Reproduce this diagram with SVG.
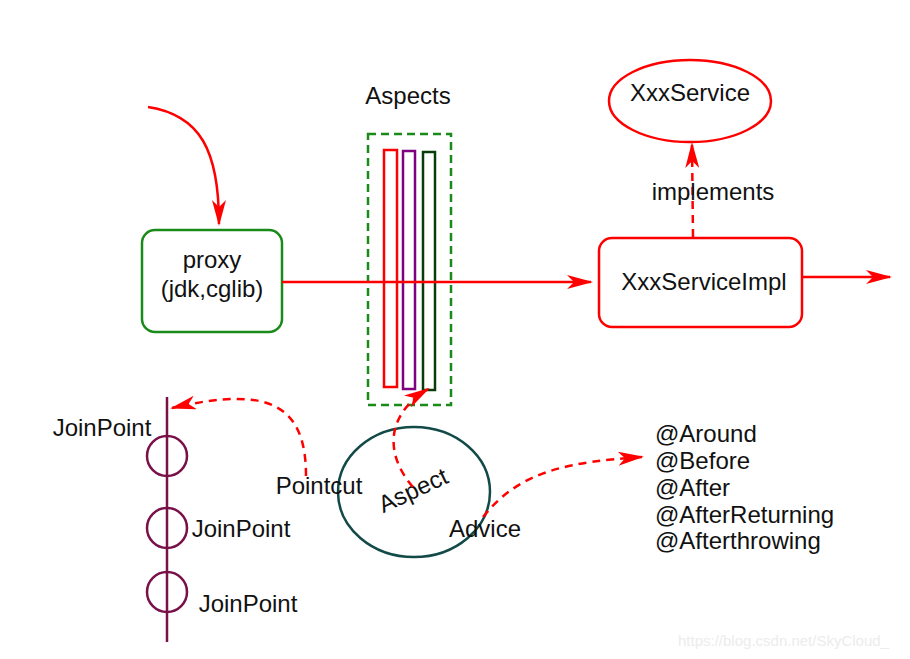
<svg xmlns="http://www.w3.org/2000/svg" width="910" height="659" viewBox="0 0 910 659">
<style>
text{font-family:"Liberation Sans",Arial,sans-serif;font-size:24px;fill:#111}
.red{fill:none;stroke:#ff0000;stroke-width:2.5}
.dash{stroke-dasharray:8,6}
.mid{text-anchor:middle;dominant-baseline:central}
</style>
<defs>
<marker id="ahb" markerWidth="26" markerHeight="14" refX="24" refY="7" orient="auto" markerUnits="userSpaceOnUse" viewBox="0 0 26 14">
<path d="M0,0 L26,7 L0,14 L7,7 Z" fill="#ff0000"/>
</marker>
</defs>
<rect width="910" height="659" fill="#fff"/>

<g id="proxy">
<rect x="142" y="230" width="140" height="102" rx="13" fill="#fff" stroke="#1a8a1a" stroke-width="2.5"/>
<text x="212" y="259" class="mid">proxy</text>
<text x="212" y="288" class="mid">(jdk,cglib)</text>
</g>

<g id="aspects">
<text x="408" y="95" class="mid">Aspects</text>
<rect x="368" y="134" width="83" height="271" fill="none" stroke="#1a8a1a" stroke-width="2.5" stroke-dasharray="8,5"/>
<rect x="384" y="150" width="13" height="237" fill="none" stroke="#ff0000" stroke-width="2.5"/>
<rect x="403" y="151" width="12" height="238" fill="none" stroke="#800080" stroke-width="2.5"/>
<rect x="423" y="152" width="12" height="238" fill="none" stroke="#0a3d0a" stroke-width="2.5"/>
</g>

<g id="xxxserviceimpl">
<rect x="599" y="238" width="203" height="89" rx="13" fill="#fff" stroke="#ff0000" stroke-width="2.5"/>
<text x="704" y="281" class="mid">XxxServiceImpl</text>
</g>

<g id="xxxservice">
<ellipse cx="690" cy="101" rx="81" ry="41" fill="#fff" stroke="#ff0000" stroke-width="2.5"/>
<text x="690" y="92" class="mid">XxxService</text>
</g>

<g id="joinpoints">
<line x1="167" y1="397" x2="167" y2="642" stroke="#7a1048" stroke-width="2.5"/>
<circle cx="167" cy="456" r="20" fill="none" stroke="#7a1048" stroke-width="2.5"/>
<circle cx="167" cy="528" r="20" fill="none" stroke="#7a1048" stroke-width="2.5"/>
<circle cx="167" cy="592" r="20" fill="none" stroke="#7a1048" stroke-width="2.5"/>
<text x="102" y="427" class="mid">JoinPoint</text>
<text x="241" y="528" class="mid">JoinPoint</text>
<text x="248" y="603" class="mid">JoinPoint</text>
</g>

<g id="aspect">
<ellipse cx="414" cy="492" rx="76" ry="65" fill="none" stroke="#124a48" stroke-width="2.5"/>
<text x="413" y="490" class="mid" transform="rotate(-25 413 490)">Aspect</text>
<text x="319" y="485" class="mid">Pointcut</text>
<text x="485" y="528" class="mid">Advice</text>
</g>

<g id="advices">
<text x="655" y="442">@Around</text>
<text x="655" y="469">@Before</text>
<text x="655" y="496">@After</text>
<text x="655" y="523">@AfterReturning</text>
<text x="655" y="549">@Afterthrowing</text>
</g>

<g id="connectors">
<path class="red" d="M148,107 C200,115 219,150 219,224" marker-end="url(#ahb)"/>
<path class="red" d="M282,282 L591,282" marker-end="url(#ahb)"/>
<path class="red" d="M802,277 L890,277" marker-end="url(#ahb)"/>
<path class="red dash" d="M693,237 L692,144" marker-end="url(#ahb)"/>
<text x="713" y="191" class="mid">implements</text>
<path class="red dash" d="M306,476 C306,405 270,385 172,408" marker-end="url(#ahb)"/>
<path class="red dash" d="M413,487 C385,455 385,415 428,389" marker-end="url(#ahb)"/>
<path class="red dash" d="M483,517 C520,470 570,462 642,457" marker-end="url(#ahb)"/>
</g>

<text x="678" y="646" style="font-size:15px;fill:#ececec">https://blog.csdn.net/SkyCloud_</text>
</svg>
